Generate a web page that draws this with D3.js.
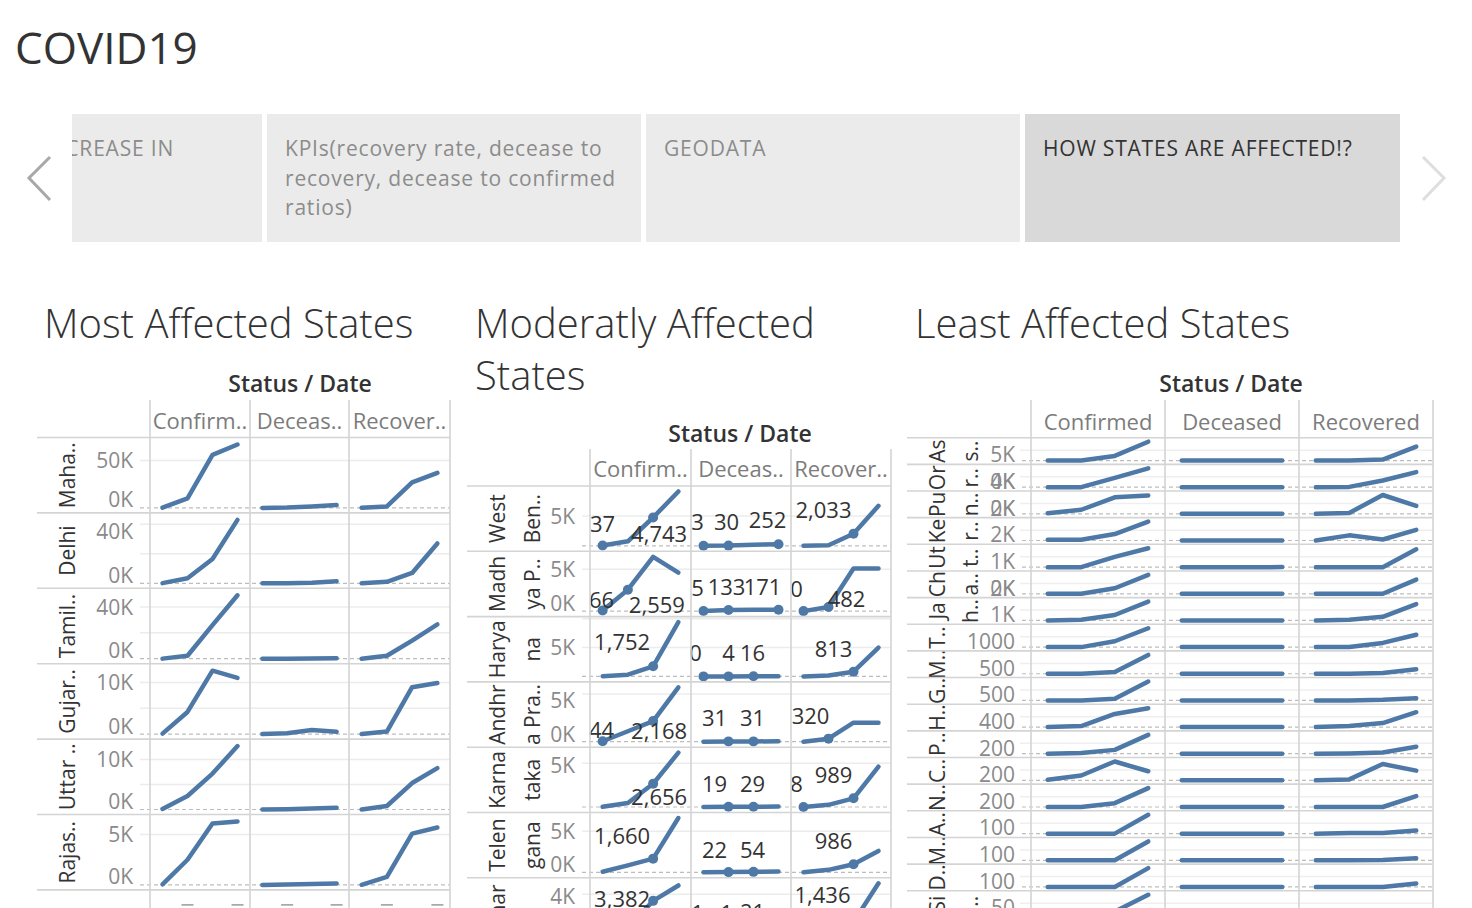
<!DOCTYPE html>
<html><head><meta charset="utf-8">
<script src="https://cdn.jsdelivr.net/npm/d3@7"></script>
<style>
html,body{margin:0;padding:0;background:#fff;overflow:hidden}
svg{display:block;font-family:"Open Sans",sans-serif}
</style></head><body>
<svg id="c" width="1472" height="908"></svg>
<script>
// ---------------- DATA ----------------
const dates = ["Mar 2020","Apr 2020","May 2020","Jun 2020"];
const storyLines = [["INCREASE IN"],["KPIs(recovery rate, decease to","recovery, decease to confirmed","ratios)"],["GEODATA"],["HOW STATES ARE AFFECTED!?"]];
const storySelected = 3;

const mostHeaders = ["Confirm..","Deceas..","Recover.."];
const mostStates = [["Maha.."],["Delhi"],["Tamil.."],["Gujar.."],["Uttar .."],["Rajas.."]];
const mostConfirmed = [[300,10000,56000,67000],[100,3400,16500,43000],[50,2300,26000,49000],[100,4300,12300,10900],[100,2700,7200,12700],[50,2500,6100,6300]];
const mostDeceased  = [[10,300,1500,3000],[2,60,400,1400],[1,30,200,400],[5,150,800,450],[2,50,200,350],[0,50,100,150]];
const mostRecovered = [[50,1500,27000,37000],[10,1000,7000,27000],[10,2300,14000,26500],[5,500,9100,9900],[10,700,5300,8300],[10,800,5100,5700]];
const mostTicks = [[0,50000],[0,40000],[0,40000],[0,10000],[0,10000],[0,5000]];
const mostGrid = [50000,20000,20000,5000,5000,5000];

const modHeaders = ["Confirm..","Deceas..","Recover.."];
const modStates = [["West","Ben.."],["Madh","ya P.."],["Harya","na"],["Andhr","a Pra.."],["Karna","taka"],["Telen","gana"],["Bihar",""]];
const modConfirmed = [[37,758,4743,9100],[66,2559,6500,4600],[36,300,1752,9400],[44,1100,2168,5700],[20,450,2656,6200],[70,850,1660,6600],[15,900,3382,4800]];
const modDeceased  = [[3,30,180,252],[5,133,160,171],[0,4,16,20],[0,31,31,40],[1,19,29,50],[1,22,54,100],[1,1,21,40]];
const modRecovered = [[0,100,2033,6700],[0,482,5100,5100],[0,150,813,5000],[0,320,2000,2000],[8,250,989,4600],[0,300,986,2600],[0,50,1436,5000]];
const modTicks = [[5000],[0,5000],[5000],[0,5000],[5000],[0,5000],[4000]];
const modGrid = [5000,5000,5000,5000,5000,5000,2000];
// labelled points: [row, status, point]
const modLabelled = [
 [0,0,0],[0,0,2],[0,1,0],[0,1,1],[0,1,3],[0,2,2],
 [1,0,0],[1,0,1],[1,1,0],[1,1,1],[1,1,3],[1,2,0],[1,2,1],
 [2,0,2],[2,1,0],[2,1,1],[2,1,2],[2,2,2],
 [3,0,0],[3,0,2],[3,1,1],[3,1,2],[3,2,1],
 [4,0,2],[4,1,1],[4,1,2],[4,2,0],[4,2,2],
 [5,0,2],[5,1,1],[5,1,2],[5,2,2],
 [6,0,2],[6,1,0],[6,1,1],[6,1,2],[6,2,2]];

const leastHeaders = ["Confirmed","Deceased","Recovered"];
const leastStates = [["As","s.."],["Or","r.."],["Pu","n.."],["Ke","r.."],["Ut","t.."],["Ch","a.."],["Ja","h.."],["T..",""],["M..",""],["G..",""],["H..",""],["P..",""],["C..",""],["N..",""],["A..",""],["M..",""],["D..",""],["Si","..."]];
const leastConfirmed = [[10,20,3600,14600],[5,10,5700,11500],[200,1320,5330,5940],[200,200,1940,5640],[0,0,1700,3130],[0,0,1850,6250],[0,100,770,2660],[0,0,920,2970],[0,0,130,1410],[0,0,130,1520],[0,60,820,1180],[0,20,120,590],[20,155,600,290],[0,0,120,590],[0,0,0,310],[0,0,0,310],[0,0,0,280],[0,0,15,140]];
const leastDeceased  = [[0,0,5,10],[0,0,5,10],[0,0,5,20],[0,0,5,10],[0,0,2,5],[0,0,5,10],[0,0,3,8],[0,0,2,6],[0,0,1,3],[0,0,1,2],[0,0,2,3],[0,0,1,1],[0,0,1,1],[0,0,0,1],[0,0,0,0],[0,0,0,0],[0,0,0,0],[0,0,0,0]];
const leastRecovered = [[0,0,770,10800],[0,180,4100,9200],[0,300,6070,2560],[0,1540,310,3170],[0,0,0,2970],[0,0,0,4710],[0,100,510,2310],[0,0,660,1950],[0,0,50,330],[0,0,50,180],[0,60,250,930],[0,10,40,220],[0,30,520,310],[0,0,0,340],[0,10,10,50],[0,0,5,35],[0,0,0,50],[0,0,0,10]];
const leastTickLabels = [["5K"],["0K","4K"],["0K","2K"],["2K"],["1K"],["0K","2K"],["1K"],["1000"],["500"],["500"],["400"],["200"],["200"],["200"],["100"],["100"],["100"],["50"]];

// ---------------- STYLE ----------------
const BLUE = "#4e79a7", GRID = "#d4d4d4", TXT = "#333", GREY = "#8a8a8a";
const modNudge = [
 [0,-14],[6,25],[-6,-16],[-2,-16],[-11,-16],[-30,-16],
 [-1,-3],[29,23],[-6,-15],[-2,-15],[-16,-15],[-7,-14],[18,0],
 [-31,-16],[-8,-15],[0,-15],[-1,-15],[-20,-15],
 [-1,-3],[6,18],[-14,-15],[-1,-15],[-18,-15],
 [6,21],[-14,-15],[-1,-15],[-7,-15],[-20,-15],
 [-31,-15],[-14,-14],[-1,-14],[-20,-15],
 [-31,6],[-6,-17],[-2,-17],[-1,-17],[-31,-19]];

const svg = d3.select("#c");

// ---------------- TITLE ----------------
svg.append("text").attr("x",15).attr("y",64).attr("font-size",44).attr("fill",TXT).text("COVID19");

// ---------------- STORY BAR ----------------
const boxes = [[72,262],[267,641],[646,1020],[1025,1400]];
const defs = svg.append("defs");
boxes.forEach((b,i)=>{
  defs.append("clipPath").attr("id","sb"+i).append("rect").attr("x",b[0]).attr("y",114).attr("width",b[1]-b[0]).attr("height",128);
  svg.append("rect").attr("x",b[0]).attr("y",114).attr("width",b[1]-b[0]).attr("height",128)
    .attr("fill", i===storySelected ? "#d9d9d9" : "#ebebeb");
  const g = svg.append("g").attr("clip-path",`url(#sb${i})`);
  storyLines[i].forEach((l,j)=>{
    const t = g.append("text").attr("y",156+j*29.5).attr("font-size",21).attr("letter-spacing",0.8)
      .attr("fill", i===storySelected ? "#333" : "#8c8c8c").text(l);
    if(i===0) t.attr("x",174).attr("text-anchor","end"); else t.attr("x",b[0]+18);
  });
});
svg.append("path").attr("d","M50,157 L29,178 L50,200").attr("fill","none").attr("stroke","#a8a8a8").attr("stroke-width",3);
svg.append("path").attr("d","M1423,157 L1444,178 L1423,200").attr("fill","none").attr("stroke","#dedede").attr("stroke-width",3);

// ---------------- SECTION TITLES ----------------
const secT = (x,y,t)=>svg.append("text").attr("x",x).attr("y",y).attr("font-size",40).attr("font-weight",300).attr("fill",TXT).text(t);
secT(44,338,"Most Affected States");
secT(475,338,"Moderatly Affected");
secT(475,390,"States");
secT(915,338,"Least Affected States");

// ---------------- PANEL ----------------
function panel(o){
  const g = svg.append("g");
  const nR = o.states.length;
  const rowTop = r => o.cellsTop + r*o.rowH;
  const rowBot = r => o.cellsTop + (r+1)*o.rowH;
  g.append("text").attr("x",o.titleX).attr("y",o.titleY).attr("text-anchor","middle")
    .attr("font-size",23).attr("font-weight",600).attr("fill",TXT).text("Status / Date");
  o.headers.forEach((h,c)=>{
    g.append("text").attr("x",(o.cols[c]+o.cols[c+1])/2).attr("y",o.headerY).attr("text-anchor","middle")
     .attr("font-size",22).attr("fill","#7c7c7c").text(h);
  });
  const xs = o.cols.slice(0,3).map((c0,c)=>d3.scalePoint().domain(dates).range([c0,o.cols[c+1]]).padding(0.5));
  o.ys = [];
  for(let r=0;r<nR;r++){
    const vals = o.series.map(s=>s[r]);
    const mx = d3.max(vals.flat());
    const y = d3.scaleLinear().domain([0,mx]).range([rowBot(r)-o.padB,rowTop(r)+o.padT]);
    if(o.grid){
      for(let v=o.grid[r]; v<=mx*1.08; v+=o.grid[r]){
        if(y(v) < rowTop(r)+1) break;
        g.append("line").attr("x1",o.tickX+7).attr("x2",o.cols[3]).attr("y1",y(v)).attr("y2",y(v))
         .attr("stroke","#ececec").attr("stroke-width",1.5);
      }
    } else {
      g.append("line").attr("x1",o.tickX+5).attr("x2",o.cols[3]).attr("y1",y(mx*0.55)).attr("y2",y(mx*0.55))
       .attr("stroke","#efefef").attr("stroke-width",1.5);
    }
    g.append("line").attr("x1",o.tickX+7).attr("x2",o.cols[3]).attr("y1",y(0)).attr("y2",y(0))
      .attr("stroke","#bdbdbd").attr("stroke-width",1.2).attr("stroke-dasharray","4,3");
    if(o.ticks){
      o.ticks[r].forEach(v=>{
        const cy = Math.max(Math.min(y(v), rowBot(r)-13), rowTop(r)+18.5);
        g.append("text").attr("x",o.tickX).attr("y",cy).attr("dy","0.36em").attr("text-anchor","end")
         .attr("font-size",21).attr("fill",GREY).text(v===0?"0K":(v/1000)+"K");
      });
    } else {
      o.tickLabels[r].forEach(t=>{
        g.append("text").attr("x",o.tickX).attr("y",rowBot(r)-2).attr("text-anchor","end")
         .attr("font-size",21).attr("fill",GREY).text(t);
      });
    }
    o.states[r].forEach((t,j)=>{
      g.append("text").attr("transform",`translate(${o.labelX[j]},${(rowTop(r)+rowBot(r))/2}) rotate(-90)`)
       .attr("text-anchor","middle").attr("font-size",o.labelSize).attr("fill",TXT).text(t);
    });
    vals.forEach((v,c)=>{
      const line = d3.line().x((d,i)=>xs[c](dates[i])).y(d=>y(d));
      g.append("path").attr("d",line(v)).attr("fill","none").attr("stroke",BLUE)
       .attr("stroke-width",4.5).attr("stroke-linecap","round").attr("stroke-linejoin","round");
    });
    o.ys[r]=y;
  }
  if(o.labelled){
    o.labelled.forEach(p=>{
      const [r,c,i] = p;
      const v = o.series[c][r][i];
      g.append("circle").attr("cx",xs[c](dates[i])).attr("cy",o.ys[r](v)).attr("r",5).attr("fill",BLUE);
    });
    o.labelled.forEach((p,k)=>{
      const [r,c,i] = p;
      const v = o.series[c][r][i];
      const px = xs[c](dates[i]), py = o.ys[r](v);
      g.append("text").attr("x",px+o.nudge[k][0]).attr("y",py+o.nudge[k][1]).attr("text-anchor","middle")
       .attr("font-size",22).attr("fill",TXT).text(d3.format(",")(v));
    });
  }
  const last = o.cellsTop + nR*o.rowH;
  for(let r=0;r<=nR;r++){
    const yy = o.cellsTop + r*o.rowH;
    g.append("line").attr("x1",o.axisLeft).attr("x2",o.cols[3]).attr("y1",yy).attr("y2",yy)
     .attr("stroke",GRID).attr("stroke-width",1.6);
  }
  o.cols.forEach(cx=>{
    g.append("line").attr("x1",cx).attr("x2",cx).attr("y1",o.headerTop).attr("y2",Math.max(last,o.bottom||0))
     .attr("stroke",GRID).attr("stroke-width",1.6);
  });
  if(o.bottom && last < o.bottom){
    xs.forEach(x=>{
      dates.forEach((d,i)=>{
        if(i%2===1) g.append("line").attr("x1",x(d)-6).attr("x2",x(d)+6).attr("y1",last+15).attr("y2",last+15)
          .attr("stroke","#9a9a9a").attr("stroke-width",1.5);
      });
    });
  }
}

panel({states:mostStates, series:[mostConfirmed,mostDeceased,mostRecovered], headers:mostHeaders,
  ticks:mostTicks, grid:mostGrid, headerTop:400, cellsTop:437.5, rowH:75.4, cols:[150,250,349,450],
  axisLeft:37, tickX:133, labelX:[75], labelSize:21, padT:7, padB:5, titleX:300, titleY:392, headerY:429, bottom:908});

panel({states:modStates, series:[modConfirmed,modDeceased,modRecovered], headers:modHeaders,
  ticks:modTicks, grid:modGrid, headerTop:449, cellsTop:486, rowH:65.3, cols:[590,691,791,891],
  axisLeft:467, tickX:575, labelX:[505,540], labelSize:21, padT:5.5, padB:5.5, titleX:740, titleY:442, headerY:477,
  labelled:modLabelled, nudge:modNudge});

panel({states:leastStates, series:[leastConfirmed,leastDeceased,leastRecovered], headers:leastHeaders,
  tickLabels:leastTickLabels, headerTop:400, cellsTop:437.7, rowH:26.65, cols:[1031,1165,1299,1433],
  axisLeft:907, tickX:1015, labelX:[945,978], labelSize:21, padT:4, padB:3.8, titleX:1231, titleY:392, headerY:430});
</script>
</body></html>
